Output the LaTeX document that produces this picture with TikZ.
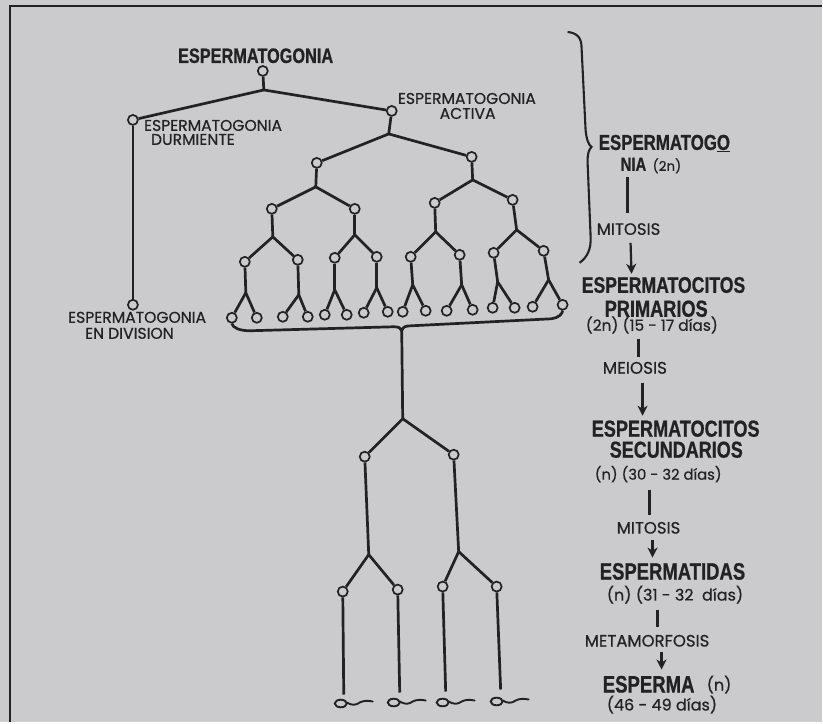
\documentclass[tikz,border=0pt]{standalone}
\usepackage{fontspec}
\setmainfont{Poppins}[FakeBold=0.6]
\newfontfamily\condfont{Liberation Sans}[FakeStretch=0.78,FakeBold=0.8]
\usetikzlibrary{arrows.meta}
\definecolor{bg}{RGB}{203,203,205}
\definecolor{ink}{RGB}{34,34,36}
\newcommand\bsz[1]{\condfont\bfseries\fontsize{#1}{#1}\selectfont}
\newcommand\ssz[1]{\fontsize{#1}{#1}\selectfont}
\newcommand\ulo{\setbox0\hbox{O}\rlap{\rule[-2.4pt]{\wd0}{1.7pt}}O}
\begin{document}
\begin{tikzpicture}[x=1pt,y=-1pt,
 cell/.style={circle,draw=ink,line width=1.7pt,minimum size=10pt,inner sep=0pt},
 link/.style={draw=ink,line width=2.7pt},
 big/.style={font=\bsz{#1},text=ink,inner sep=0pt,anchor=base west},
 small/.style={font=\ssz{#1},text=ink,inner sep=0pt,anchor=base west},
 arr/.style={draw=ink,line width=2.2pt,-{Stealth[length=10pt,width=10pt,inset=3pt]}},
 rline/.style={draw=ink,line width=2.2pt},
]
\fill[bg] (0,0) rectangle (823,723);
\draw[ink,line width=1.2pt] (10,723) -- (10,6) -- (823,6);

% ---------- top of tree ----------
\node[big=20.9] (title) at (178,63) {ESPERMATOGONIA};
\node[cell] (r) at (263,71) {};
\node[cell] (d) at (133,120) {};
\node[cell] (a) at (392,111) {};
\coordinate (j0) at (264,90);
\draw[link] (r) -- (j0);
\draw[link] (j0) -- (d);
\draw[link] (j0) -- (a);
\node[small=15.6] (actA) at (398,104) {ESPERMATOGONIA};
\node[small=15.6,anchor=base] (actB) at (468,119) {ACTIVA};
\node[small=15.6] (durA) at (144,131) {ESPERMATOGONIA};
\node[small=15.6] (durB) at (151,145) {DURMIENTE};
\node[cell] (ed) at (133,305) {};
\draw[link] (d) -- (ed);
\node[small=15.6] (edA) at (68,323) {ESPERMATOGONIA};
\node[small=15.6] (edB) at (85,339) {EN DIVISION};

% ---------- active subtree ----------
\node[cell] (L) at (317,163) {};
\node[cell] (R) at (472,157) {};
\coordinate (ja) at (389,134);
\draw[link] (a) -- (ja); \draw[link] (ja) -- (L); \draw[link] (ja) -- (R);

\node[cell] (LL) at (272,209) {};
\node[cell] (LR) at (355,209) {};
\coordinate (jL) at (316,187);
\draw[link] (L) -- (jL); \draw[link] (jL) -- (LL); \draw[link] (jL) -- (LR);

\node[cell] (RL) at (435,203) {};
\node[cell] (RR) at (513,200) {};
\coordinate (jR) at (473,180);
\draw[link] (R) -- (jR); \draw[link] (jR) -- (RL); \draw[link] (jR) -- (RR);

\node[cell] (LLL) at (245,262) {};
\node[cell] (LLR) at (298,260) {};
\coordinate (jLL) at (273,237);
\draw[link] (LL) -- (jLL); \draw[link] (jLL) -- (LLL); \draw[link] (jLL) -- (LLR);

\node[cell] (LRL) at (335,258) {};
\node[cell] (LRR) at (377,257) {};
\coordinate (jLR) at (355,235);
\draw[link] (LR) -- (jLR); \draw[link] (jLR) -- (LRL); \draw[link] (jLR) -- (LRR);

\node[cell] (RLL) at (411,257) {};
\node[cell] (RLR) at (460,255) {};
\coordinate (jRL) at (436,232);
\draw[link] (RL) -- (jRL); \draw[link] (jRL) -- (RLL); \draw[link] (jRL) -- (RLR);

\node[cell] (RRL) at (494,253) {};
\node[cell] (RRR) at (544,251) {};
\coordinate (jRR) at (517,230);
\draw[link] (RR) -- (jRR); \draw[link] (jRR) -- (RRL); \draw[link] (jRR) -- (RRR);

% leaves
\node[cell] (l1) at (232,318) {};
\node[cell] (l2) at (257,318) {};
\node[cell] (l3) at (283,317) {};
\node[cell] (l4) at (308,317) {};
\node[cell] (l5) at (325,315) {};
\node[cell] (l6) at (347,315) {};
\node[cell] (l7) at (364,313) {};
\node[cell] (l8) at (388,312) {};
\node[cell] (l9) at (403,312) {};
\node[cell] (l10) at (426,311) {};
\node[cell] (l11) at (447,311) {};
\node[cell] (l12) at (473,310) {};
\node[cell] (l13) at (493,308) {};
\node[cell] (l14) at (515,308) {};
\node[cell] (l15) at (533,307) {};
\node[cell] (l16) at (563,305) {};

\coordinate (k1) at (246,293);
\draw[link] (LLL) -- (k1); \draw[link] (k1) -- (l1); \draw[link] (k1) -- (l2);
\coordinate (k2) at (299,295);
\draw[link] (LLR) -- (k2); \draw[link] (k2) -- (l3); \draw[link] (k2) -- (l4);
\coordinate (k3) at (335,290);
\draw[link] (LRL) -- (k3); \draw[link] (k3) -- (l5); \draw[link] (k3) -- (l6);
\coordinate (k4) at (377,288);
\draw[link] (LRR) -- (k4); \draw[link] (k4) -- (l7); \draw[link] (k4) -- (l8);
\coordinate (k5) at (413,285);
\draw[link] (RLL) -- (k5); \draw[link] (k5) -- (l9); \draw[link] (k5) -- (l10);
\coordinate (k6) at (462,285);
\draw[link] (RLR) -- (k6); \draw[link] (k6) -- (l11); \draw[link] (k6) -- (l12);
\coordinate (k7) at (498,282);
\draw[link] (RRL) -- (k7); \draw[link] (k7) -- (l13); \draw[link] (k7) -- (l14);
\coordinate (k8) at (549,280);
\draw[link] (RRR) -- (k8); \draw[link] (k8) -- (l15); \draw[link] (k8) -- (l16);

% bracket under leaves
\coordinate (tip) at (402,331);
\draw[link] (l1.south) .. controls (233,328) and (240,331) .. (250,331) -- (394,327)
  .. controls (399,327) and (401,328) .. (tip)
  .. controls (403,327) and (406,326) .. (412,326) -- (552,319)
  .. controls (559,318) and (563,314) .. (l16.south);

% ---------- lower part ----------
\coordinate (jS) at (403,419);
\draw[link] (tip) -- (jS);
\node[cell] (s1) at (365,457) {};
\node[cell] (s2) at (454,455) {};
\draw[link] (jS) -- (s1); \draw[link] (jS) -- (s2);
\coordinate (jS1) at (369,555);
\coordinate (jS2) at (459,552);
\node[cell] (s11) at (343,592) {};
\node[cell] (s12) at (398,590) {};
\node[cell] (s21) at (443,587) {};
\node[cell] (s22) at (497,587) {};
\draw[link] (s1) -- (jS1); \draw[link] (jS1) -- (s11); \draw[link] (jS1) -- (s12);
\draw[link] (s2) -- (jS2); \draw[link] (jS2) -- (s21); \draw[link] (jS2) -- (s22);

\coordinate (t1) at (344,695);
\coordinate (t2) at (400,693);
\coordinate (t3) at (446,692);
\coordinate (t4) at (501,690);
\draw[link] (s11) -- (t1);
\draw[link] (s12) -- (t2);
\draw[link] (s21) -- (t3);
\draw[link] (s22) -- (t4);
\foreach \cx/\cy in {341/704, 394/703, 443/703, 497/702}{
  \draw[ink,line width=1.9pt] (\cx,\cy) ellipse (6 and 3.8);
  \draw[ink,line width=1.9pt,line cap=round] (\cx+6,\cy-1)
    .. controls (\cx+11,\cy+2) and (\cx+15,\cy+2) .. (\cx+19,\cy-1)
    .. controls (\cx+23,\cy-3) and (\cx+27,\cy-3) .. (\cx+32,\cy-2);
}

% ---------- right column ----------
\draw[ink,line width=2.1pt] (568,32) .. controls (577,33) and (582,37) .. (582,48)
  -- (586,130) .. controls (587,140) and (589,145) .. (592,147)
  .. controls (589,150) and (588,154) .. (588,162)
  -- (591,236) .. controls (592,250) and (587,258) .. (580,263);

\node[big=21.6] (g1) at (599,150) {ESPERMATOG\ulo};
\node[big=19] (g2) at (621,171) {NIA {\normalfont\ssz{13.5}\,(2n)}};
\node[small=16.5] (mit1) at (597,235) {MITOSIS};
\coordinate (a1s) at (628,177); \coordinate (a1e) at (628,213);
\draw[rline] (a1s) -- (a1e);
\coordinate (a2s) at (631,243); \coordinate (a2e) at (632,274);
\draw[arr] (a2s) -- (a2e);

\node[big=22.6] (p1) at (582,293) {ESPERMATOCITOS};
\node[big=23.3] (p2) at (605,317) {PRIMARIOS};
\node[small=15.4] (p3) at (586,331) {(2n) (15 - 17 días)};
\coordinate (b1s) at (639,339); \coordinate (b1e) at (639,357);
\draw[rline] (b1s) -- (b1e);
\node[small=16.8] (mei) at (603,374) {MEIOSIS};
\coordinate (b2s) at (643,383); \coordinate (b2e) at (643,416);
\draw[arr] (b2s) -- (b2e);

\node[big=23.2] (q1) at (592,437) {ESPERMATOCITOS};
\node[big=23.1] (q2) at (610,458) {SECUNDARIOS};
\node[small=14.8] (q3) at (595,480) {(n) (30 - 32 días)};
\coordinate (c1s) at (650,490); \coordinate (c1e) at (650,515);
\draw[ink,line width=2.8pt] (c1s) -- (c1e);
\node[small=16.5] (mit2) at (617,534) {MITOSIS};
\coordinate (c2s) at (653,540); \coordinate (c2e) at (653,558);
\draw[arr] (c2s) -- (c2e);

\node[big=23.7] (e1) at (600,580) {ESPERMATIDAS};
\node[small=16] (e2) at (607,601) {(n) (31 - 32\ \ días)};
\coordinate (d1s) at (658,610); \coordinate (d1e) at (658,627);
\draw[ink,line width=2.8pt] (d1s) -- (d1e);
\node[small=16.5] (meta) at (585,647) {METAMORFOSIS};
\coordinate (d2s) at (662,652); \coordinate (d2e) at (662,670);
\draw[arr] (d2s) -- (d2e);

\node[big=23.8] (f1) at (603,693) {ESPERMA};
\node[small=16] (f2) at (707,691) {(n)};
\node[small=16] (f3) at (607,711) {(46 - 49 días)};
\end{tikzpicture}
\end{document}
